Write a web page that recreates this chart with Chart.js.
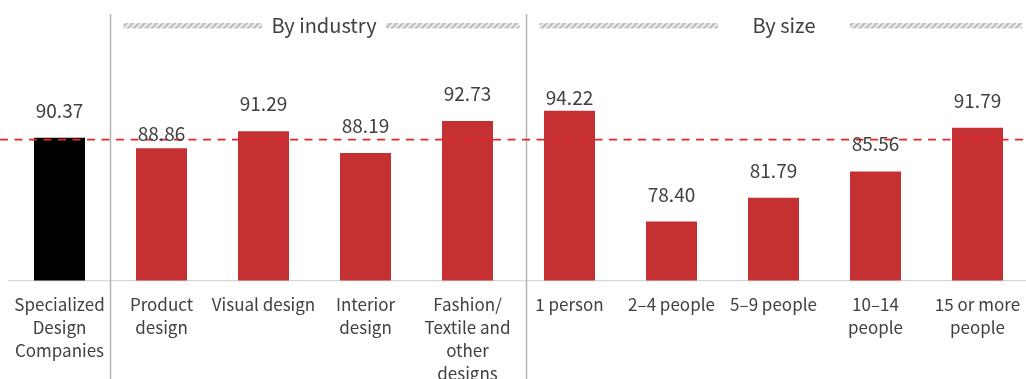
<!DOCTYPE html>
<html>
<head>
<meta charset="utf-8">
<title>Design company scores</title>
<script src="https://cdn.jsdelivr.net/npm/chart.js@4.4.1/dist/chart.umd.min.js"></script>
<style>
  html, body { margin: 0; padding: 0; background: #ffffff; overflow: hidden; }
  #wrap { width: 1029px; height: 379px; }
</style>
</head>
<body>
<div id="wrap"><canvas id="chart" width="1029" height="379"></canvas></div>
<script>
// Categories (multi-line x labels)
const categories = [
  ['Specialized', 'Design', 'Companies'],
  ['Product', 'design'],
  ['Visual design'],
  ['Interior', 'design'],
  ['Fashion/', 'Textile and', 'other', 'designs'],
  ['1 person'],
  ['2–4 people'],
  ['5–9 people'],
  ['10–14', 'people'],
  ['15 or more', 'people']
];

// Scores per category
const scores = [90.37, 88.86, 91.29, 88.19, 92.73, 94.22, 78.40, 81.79, 85.56, 91.79];

// Dashed reference level
const referenceLevel = 90.1;

// Group headings
const groupTitles = ['By industry', 'By size'];

// Value axis range
const axisMin = 70;
const axisMax = 110;

const FONT = "'Noto Sans CJK KR', 'Noto Sans', sans-serif";
const TEXT = '#404040';
const RED = '#c53133';
const BLACK = '#000000';

const barColors = scores.map((v, i) => (i === 0 ? BLACK : RED));

// Per-bar nudges for value labels that sit lower than the rest
const labelNudge = { 1: 12.5, 5: 14 };

function hatchPattern(ctx) {
  const c = document.createElement('canvas');
  c.width = 6; c.height = 6;
  const p = c.getContext('2d');
  p.fillStyle = '#eeeeee';
  p.fillRect(0, 0, 6, 6);
  p.strokeStyle = '#bdbdbd';
  p.lineWidth = 2.2;
  p.beginPath();
  p.moveTo(-1, 7); p.lineTo(7, -1);
  p.moveTo(-4, 4); p.lineTo(4, -4);
  p.moveTo(2, 10); p.lineTo(10, 2);
  p.stroke();
  return ctx.createPattern(c, 'repeat');
}

const decorations = {
  id: 'decorations',
  beforeDatasetsDraw(chart) {
    const { ctx, scales: { x } } = chart;
    const H = chart.height;
    // group separators
    const sepA = (x.getPixelForValue(0) + x.getPixelForValue(1)) / 2;
    const sepB = (x.getPixelForValue(4) + x.getPixelForValue(5)) / 2 + 8;
    ctx.save();
    ctx.strokeStyle = '#b3b3b3';
    ctx.lineWidth = 1.5;
    [sepA, sepB].forEach(sx => {
      ctx.beginPath();
      ctx.moveTo(sx, 14);
      ctx.lineTo(sx, H);
      ctx.stroke();
    });

    // group headers with hatched rules on both sides
    const pat = hatchPattern(ctx);
    const groups = [
      { title: groupTitles[0], from: sepA + 13, to: sepB - 7, center: 324, gap: 62 },
      { title: groupTitles[1], from: sepB + 13, to: 1022, center: 784, gap: 66 }
    ];
    ctx.font = '20px ' + FONT;
    ctx.textAlign = 'center';
    ctx.textBaseline = 'alphabetic';
    groups.forEach(g => {
      ctx.fillStyle = pat;
      ctx.fillRect(g.from, 23, (g.center - g.gap) - g.from, 5.5);
      ctx.fillRect(g.center + g.gap, 23, g.to - (g.center + g.gap), 5.5);
      ctx.fillStyle = TEXT;
      ctx.fillText(g.title, g.center, 33);
    });
    ctx.restore();
  },
  afterDatasetsDraw(chart) {
    const { ctx, scales: { y } } = chart;
    // dashed reference line across the full width
    const ly = y.getPixelForValue(referenceLevel);
    ctx.save();
    ctx.strokeStyle = '#e8252b';
    ctx.lineWidth = 1.8;
    ctx.setLineDash([8, 6.5]);
    ctx.beginPath();
    ctx.moveTo(0, ly);
    ctx.lineTo(chart.width, ly);
    ctx.stroke();
    ctx.setLineDash([]);

    // value labels
    const meta = chart.getDatasetMeta(0);
    ctx.font = '19px ' + FONT;
    ctx.fillStyle = TEXT;
    ctx.textAlign = 'center';
    ctx.textBaseline = 'alphabetic';
    meta.data.forEach((bar, i) => {
      const nudge = labelNudge[i] || 0;
      ctx.fillText(scores[i].toFixed(2), bar.x, bar.y - 20 + nudge);
    });
    ctx.restore();
  }
};

new Chart(document.getElementById('chart'), {
  type: 'bar',
  data: {
    labels: categories,
    datasets: [{
      data: scores,
      backgroundColor: barColors,
      borderWidth: 0,
      barPercentage: 0.5,
      categoryPercentage: 1.0
    }]
  },
  options: {
    responsive: false,
    animation: false,
    layout: { padding: { left: 8.5, right: 0.5, top: 0, bottom: 0 } },
    plugins: { legend: { display: false }, tooltip: { enabled: false } },
    scales: {
      x: {
        grid: { display: false, drawTicks: false },
        border: { display: true, color: '#d6d6d6', width: 1.2 },
        ticks: {
          autoSkip: false,
          maxRotation: 0,
          padding: 12.5,
          color: TEXT,
          font: { family: FONT, size: 17, lineHeight: '23px' }
        },
        afterFit(scale) {
          scale.height = 98.5;
          scale.paddingLeft = 0;
          scale.paddingRight = 0;
        }
      },
      y: {
        display: false,
        min: axisMin,
        max: axisMax
      }
    }
  },
  plugins: [decorations]
});
</script>
</body>
</html>
